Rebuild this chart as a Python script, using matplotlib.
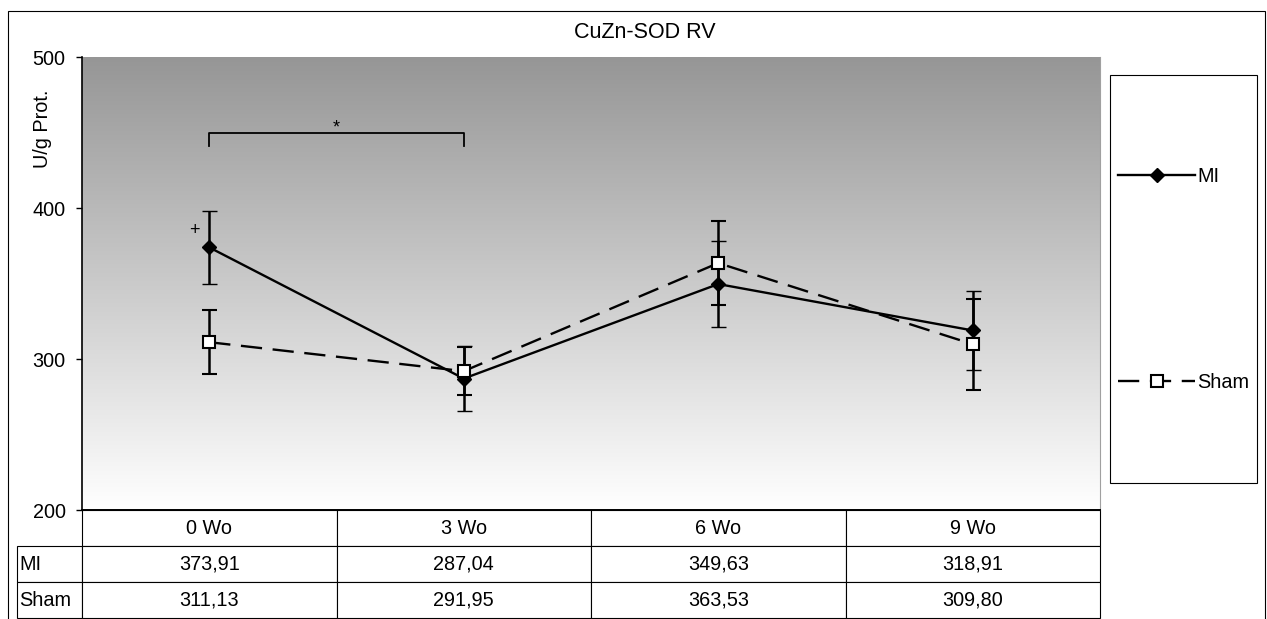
import numpy as np
import matplotlib
matplotlib.use("Agg")
import matplotlib.pyplot as plt
from matplotlib.colors import LinearSegmentedColormap
from matplotlib.patches import Rectangle
from matplotlib.table import Table

plt.rcParams['font.family'] = ['Liberation Sans', 'DejaVu Sans']

# data
weeks = ["0 Wo", "3 Wo", "6 Wo", "9 Wo"]
mi = [373.91, 287.04, 349.63, 318.91]
mi_err = [24, 21.7, 28.5, 26]
sham = [311.13, 291.95, 363.53, 309.80]
sham_err = [21, 16, 28, 30]

W, H = 1267, 619
def fx(px):
    return px / W
def fy(py):
    return 1 - py / H

fig = plt.figure(figsize=(W / 100, H / 100), dpi=100)
ax = fig.add_axes([fx(82), fy(510), (1100 - 82) / W, (510 - 57) / H])

x = np.arange(len(weeks))
fs = 14.3

# gray gradient background
grad = LinearSegmentedColormap.from_list("g", ["#969696", "#ffffff"])
ax.imshow(np.linspace(0, 1, 256).reshape(-1, 1), cmap=grad, aspect='auto',
          extent=(-0.5, 3.5, 200, 500), zorder=0)

eb_mi = ax.errorbar(x, mi, yerr=mi_err, fmt='-', color='black', lw=1.7,
                    marker='D', ms=7, mfc='black', mec='black', mew=1,
                    elinewidth=1.8, capsize=5.4, capthick=1.8, zorder=3)
eb_sham = ax.errorbar(x, sham, yerr=sham_err, fmt='-', color='black', lw=1.7,
                      linestyle=(0, (9, 4.5)), marker='s', ms=8.5, mfc='white',
                      mec='black', mew=1.5, elinewidth=1.8, capsize=5.4,
                      capthick=1.8, zorder=4)

# significance marks
ax.plot([0, 0, 1, 1], [441, 450, 450, 441], color='black', lw=1.3, zorder=3)
ax.text(0.5, 453, "*", ha='center', va='center', fontsize=13)
ax.annotate("+", xy=(0, mi[0]), xytext=(-11, 12.5), textcoords='offset points',
            ha='center', va='center', fontsize=13)

ax.set_xlim(-0.5, 3.5)
ax.set_ylim(200, 500)
ax.set_yticks([200, 300, 400, 500])
ax.tick_params(axis='y', length=4.3, width=1, pad=7.5, labelsize=fs)
ax.set_xticks([])
ax.spines['top'].set_visible(False)
ax.spines['right'].set_color('#a0a0a0')
ax.spines['left'].set_linewidth(1.2)
ax.spines['bottom'].set_linewidth(1.4)

# data table under the plot (bbox covers the week columns, labels sit to the left)
cw = 0.25
rlw = 65 / 1018
rh = 1.0
tbl = Table(ax, bbox=[0, -108 / 453, 1, 108 / 453])
for j, w in enumerate(weeks):
    tbl.add_cell(0, j, width=cw, height=rh, text=w, loc='center', facecolor='white')
for i, (name, vals) in enumerate([("MI", mi), ("Sham", sham)]):
    c = tbl.add_cell(i + 1, -1, width=rlw, height=rh, text=name, loc='left', facecolor='white')
    c.PAD = 0.03
    for j, v in enumerate(vals):
        tbl.add_cell(i + 1, j, width=cw, height=rh, text=f"{v:.2f}".replace('.', ','),
                     loc='center', facecolor='white')
for cell in tbl.get_celld().values():
    cell.set_linewidth(0.8)
tbl.auto_set_font_size(False)
tbl.set_fontsize(fs)
ax.add_table(tbl)

# legend
fig.add_artist(Rectangle((fx(1110), fy(483)), (1257 - 1110) / W, (483 - 75) / H,
                         transform=fig.transFigure, fill=False, ec='black', lw=0.8))
fig.legend([eb_mi.lines[0], eb_sham.lines[0]], ["MI", "Sham"], loc='center left',
           bbox_to_anchor=(fx(1118), fy(279.5)), frameon=False, handlelength=3.9,
           handletextpad=0.1, labelspacing=9.4, borderpad=0, borderaxespad=0,
           numpoints=1, fontsize=fs)

fig.text(fx(645), fy(32), "CuZn-SOD RV", ha='center', va='center', fontsize=15.5)
fig.text(fx(42), fy(129), "U/g Prot.", ha='center', va='center', rotation=90, fontsize=fs)

# outer chart frame
fig.add_artist(Rectangle((fx(8), fy(650)), (1265 - 8) / W, (650 - 11) / H,
                         transform=fig.transFigure, fill=False, ec='black', lw=0.8))

fig.savefig("out.png", dpi=100)
